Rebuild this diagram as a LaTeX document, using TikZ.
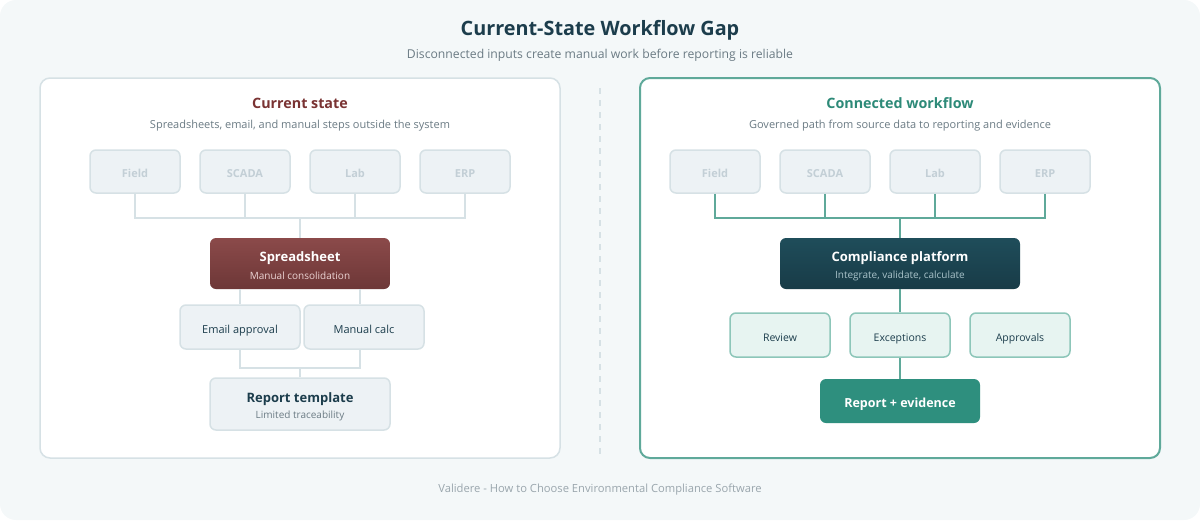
\documentclass[tikz,border=0pt]{standalone}
\usepackage{fontspec}
\setmainfont{Open Sans}
\usepackage{tikz}
\usetikzlibrary{positioning,calc}
\definecolor{pagebg}{HTML}{F4F8F9}
\definecolor{ink}{HTML}{1C3D4C}
\definecolor{muted}{HTML}{6B7B84}
\definecolor{faint}{HTML}{9AA6AD}
\definecolor{edge}{HTML}{D6E1E5}
\definecolor{srcfill}{HTML}{EDF2F5}
\definecolor{srctext}{HTML}{C3CFD6}
\definecolor{wine}{HTML}{7A3333}
\definecolor{winetop}{HTML}{8B4A4A}
\definecolor{winebot}{HTML}{6D3737}
\definecolor{winesub}{HTML}{EBD3D3}
\definecolor{navytop}{HTML}{1F4D5A}
\definecolor{navybot}{HTML}{183B47}
\definecolor{navysub}{HTML}{A9C3CA}
\definecolor{teal}{HTML}{2D8A78}
\definecolor{tealdeep}{HTML}{2E8F7E}
\definecolor{tealline}{HTML}{5FA99A}
\definecolor{tealsoft}{HTML}{E7F4F1}
\definecolor{tealedge}{HTML}{8DC6B9}
\newcommand{\fs}[1]{\fontsize{#1}{#1}\selectfont}

\tikzset{
  lowtext/.style={text height=12pt, text depth=0pt},
  srcbox/.style={draw=edge, line width=1.5pt, fill=srcfill, rounded corners=6pt, lowtext,
    minimum width=90pt, minimum height=43pt, font=\fs{11}\bfseries, text=srctext},
  stepbox/.style={draw=edge, line width=1.5pt, fill=srcfill, rounded corners=6pt, lowtext,
    minimum width=120pt, minimum height=44pt, font=\fs{11}, text=ink},
  goodbox/.style={draw=tealedge, line width=1.5pt, fill=tealsoft, rounded corners=6pt, lowtext,
    minimum width=100pt, minimum height=44pt, font=\fs{10.5}, text=ink},
  wireL/.style={draw=edge, line width=2pt},
  wireR/.style={draw=tealline, line width=2.5pt},
}

\begin{document}
\begin{tikzpicture}[x=1pt, y=-1pt]
  \useasboundingbox (0,0) rectangle (1200,520);
  \fill[pagebg, rounded corners=16pt] (0,0) rectangle (1200,520);

  % Heading
  \node[font=\fs{19.8}\bfseries, text=ink] (title) at (600,30) {Current-State Workflow Gap};
  \node[font=\fs{12.2}, text=muted] (subtitle) at (600,55) {Disconnected inputs create manual work before reporting is reliable};

  % Panels
  \draw[edge, line width=1.5pt, fill=white, rounded corners=10pt] (40,78) rectangle (560,458);
  \draw[tealline, line width=2pt, fill=white, rounded corners=10pt] (640,78) rectangle (1160,458);
  \draw[edge, line width=1.5pt, dash pattern=on 6pt off 6pt] (600,88) -- (600,458);

  % Current state
  \node[font=\fs{14.3}\bfseries, text=wine] (lhead) at (300,103) {Current state};
  \node[font=\fs{11}, text=muted] (lsub) at (300,126) {Spreadsheets, email, and manual steps outside the system};

  \node[srcbox] (lf) at (135,171.5) {Field};
  \node[srcbox] (ls) at (245,171.5) {SCADA};
  \node[srcbox] (ll) at (355,171.5) {Lab};
  \node[srcbox] (le) at (465,171.5) {ERP};

  \node[draw=none, rounded corners=6pt, minimum width=180pt, minimum height=51pt,
    top color=winetop, bottom color=winebot] (ss) at (300,263.5) {};
  \node[font=\fs{13}\bfseries, text=white] at ($(ss.center)+(0,-5)$) {Spreadsheet};
  \node[font=\fs{10}, text=winesub] at ($(ss.center)+(0,12)$) {Manual consolidation};

  \node[stepbox] (ea) at (240,327) {Email approval};
  \node[stepbox] (mc) at (364,327) {Manual calc};

  \node[stepbox, minimum width=180pt, minimum height=52pt] (rt) at (300,404) {};
  \node[font=\fs{13}\bfseries, text=ink] at ($(rt.center)+(0,-5)$) {Report template};
  \node[font=\fs{10}, text=muted] at ($(rt.center)+(0,12)$) {Limited traceability};

  \coordinate (jl) at (300,218);
  \foreach \n in {lf,ls,ll,le} \draw[wireL] (\n.south) |- (jl);
  \draw[wireL] (jl) -- (ss.north);
  \draw[wireL] (ss.south -| ea.north) -- (ea.north);
  \draw[wireL] ([xshift=-4pt]mc.north |- ss.south) -- ([xshift=-4pt]mc.north);
  \coordinate (jb) at (300,368);
  \draw[wireL] (ea.south) |- (jb);
  \draw[wireL] ([xshift=-4pt]mc.south) |- (jb);
  \draw[wireL] (jb) -- (rt.north);

  % Connected workflow
  \node[font=\fs{14.3}\bfseries, text=teal] (rhead) at (900,103) {Connected workflow};
  \node[font=\fs{11}, text=muted] (rsub) at (900,126) {Governed path from source data to reporting and evidence};

  \node[srcbox] (rf) at (715,171.5) {Field};
  \node[srcbox] (rs) at (825,171.5) {SCADA};
  \node[srcbox] (rl) at (935,171.5) {Lab};
  \node[srcbox] (re) at (1045,171.5) {ERP};

  \node[draw=none, rounded corners=6pt, minimum width=240pt, minimum height=51pt,
    top color=navytop, bottom color=navybot] (cp) at (900,263.5) {};
  \node[font=\fs{13}\bfseries, text=white] at ($(cp.center)+(0,-5)$) {Compliance platform};
  \node[font=\fs{10}, text=navysub] at ($(cp.center)+(0,12)$) {Integrate, validate, calculate};

  \node[goodbox] (rv) at (780,335) {Review};
  \node[goodbox] (ex) at (900,335) {Exceptions};
  \node[goodbox] (ap) at (1020,335) {Approvals};

  \node[fill=tealdeep, rounded corners=6pt, minimum width=160pt, minimum height=44pt, lowtext,
    font=\fs{12.5}\bfseries, text=white] (rp) at (900,401) {Report + evidence};

  \coordinate (jr) at (900,218);
  \foreach \n in {rf,rs,rl,re} \draw[wireR] (\n.south) |- (jr);
  \draw[wireR] (jr) -- (cp.north);
  \draw[wireR] (cp.south) -- (ex.north);
  \draw[wireR] (ex.south) -- (rp.north);

  % Footer
  \node[font=\fs{11.2}, text=faint] (foot) at (600,490) {Validere - How to Choose Environmental Compliance Software};
\end{tikzpicture}
\end{document}
